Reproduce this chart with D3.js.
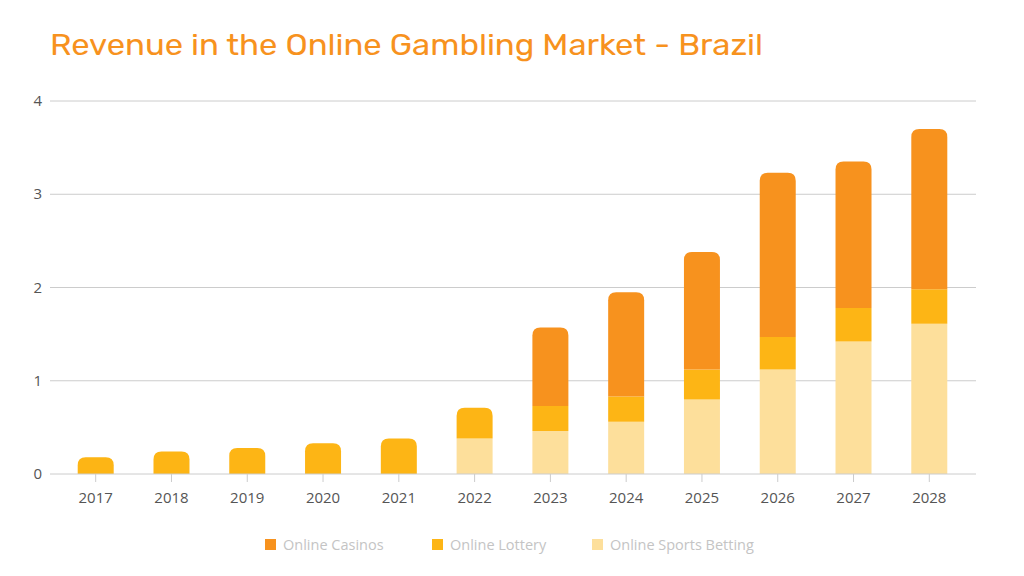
<!DOCTYPE html>
<html>
<head>
<meta charset="utf-8">
<script src="https://cdn.jsdelivr.net/npm/d3@7/dist/d3.min.js"></script>
<style>
  html, body { margin: 0; padding: 0; background: #fff; }
  svg { display: block; font-family: "Open Sans", "Noto Sans", sans-serif; }
</style>
</head>
<body>
<svg id="chart" width="1024" height="576"></svg>
<script>
const years = ["2017","2018","2019","2020","2021","2022","2023","2024","2025","2026","2027","2028"];
const sportsBetting = [0, 0, 0, 0, 0, 0.38, 0.46, 0.56, 0.80, 1.12, 1.42, 1.61];
const lottery       = [0.18, 0.24, 0.28, 0.33, 0.38, 0.33, 0.27, 0.27, 0.32, 0.35, 0.36, 0.37];
const casinos       = [0, 0, 0, 0, 0, 0, 0.84, 1.12, 1.26, 1.76, 1.57, 1.72];
const yTicks = [0, 1, 2, 3, 4];
const seriesNames = ["Online Sports Betting", "Online Lottery", "Online Casinos"];
const seriesColors = ["#fddf9b", "#fdb515", "#f7921e"];
const legendOrder = [2, 1, 0];
const titleText = "Revenue in the Online Gambling Market - Brazil";

const svg = d3.select("#chart");
const W = 1024, H = 576;
const gridX0 = 50, gridX1 = 976;

const x = d3.scaleBand().domain(years).range([58, 967]).paddingInner(0.525).paddingOuter(0.26);
const y = d3.scaleLinear().domain([0, 4]).range([474, 101]);

// title
svg.append("text")
  .attr("x", 50).attr("y", 55)
  .attr("fill", "#f7921e")
  .attr("font-size", 30)
  .attr("font-family", "Rubik, 'Open Sans', sans-serif")
  .attr("textLength", 713)
  .attr("lengthAdjust", "spacingAndGlyphs")
  .text(titleText);

// gridlines
svg.append("g").selectAll("line").data(yTicks.filter(d => d > 0)).join("line")
  .attr("x1", gridX0).attr("x2", gridX1)
  .attr("y1", d => y(d)).attr("y2", d => y(d))
  .attr("stroke", "#cccccc").attr("stroke-width", 1);

// y labels
svg.append("g").selectAll("text").data(yTicks).join("text")
  .attr("x", 42).attr("y", d => y(d) + 5)
  .attr("text-anchor", "end")
  .attr("font-size", 15).attr("fill", "#555")
  .text(d => d);

// stacked data
const rows = years.map((yr, i) => ({ year: yr, s0: sportsBetting[i], s1: lottery[i], s2: casinos[i] }));
const stack = d3.stack().keys(["s0", "s1", "s2"]);
const series = stack(rows);

const bw = x.bandwidth();
const r = 8;
function topIndex(i) {
  for (let k = 2; k >= 0; k--) if (series[k][i][1] - series[k][i][0] > 0) return k;
  return -1;
}
function segPath(x0, yTop, yBot, w, rounded) {
  if (!rounded) return `M${x0},${yBot}V${yTop}H${x0 + w}V${yBot}Z`;
  const rr = Math.min(r, (yBot - yTop), w / 2);
  return `M${x0},${yBot}V${yTop + rr}Q${x0},${yTop} ${x0 + rr},${yTop}H${x0 + w - rr}Q${x0 + w},${yTop} ${x0 + w},${yTop + rr}V${yBot}Z`;
}

const barsG = svg.append("g");
series.forEach((s, k) => {
  barsG.append("g").attr("fill", seriesColors[k])
    .selectAll("path").data(s.map((d, i) => ({ d, i }))).join("path")
    .filter(o => o.d[1] - o.d[0] > 0)
    .attr("d", o => segPath(x(years[o.i]), y(o.d[1]), y(o.d[0]), bw, topIndex(o.i) === k));
});

// x axis baseline
svg.append("line").attr("x1", gridX0).attr("x2", gridX1)
  .attr("y1", y(0)).attr("y2", y(0)).attr("stroke", "#cccccc").attr("stroke-width", 1);

// x axis ticks + labels
const xg = svg.append("g");
xg.selectAll("line").data(years).join("line")
  .attr("x1", d => x(d) + bw / 2).attr("x2", d => x(d) + bw / 2)
  .attr("y1", y(0)).attr("y2", y(0) + 8)
  .attr("stroke", "#cccccc");
xg.selectAll("text").data(years).join("text")
  .attr("x", d => x(d) + bw / 2).attr("y", 503)
  .attr("text-anchor", "middle").attr("font-size", 15).attr("fill", "#555")
  .text(d => d);

// legend
const legendX = [265, 432, 592];
const lg = svg.append("g");
legendOrder.forEach((k, j) => {
  lg.append("rect").attr("x", legendX[j]).attr("y", 539).attr("width", 11).attr("height", 11)
    .attr("fill", seriesColors[k]);
  lg.append("text").attr("x", legendX[j] + 18).attr("y", 549.5)
    .attr("font-size", 14.5).attr("fill", "#c4c4c4")
    .text(seriesNames[k]);
});
</script>
</body>
</html>
